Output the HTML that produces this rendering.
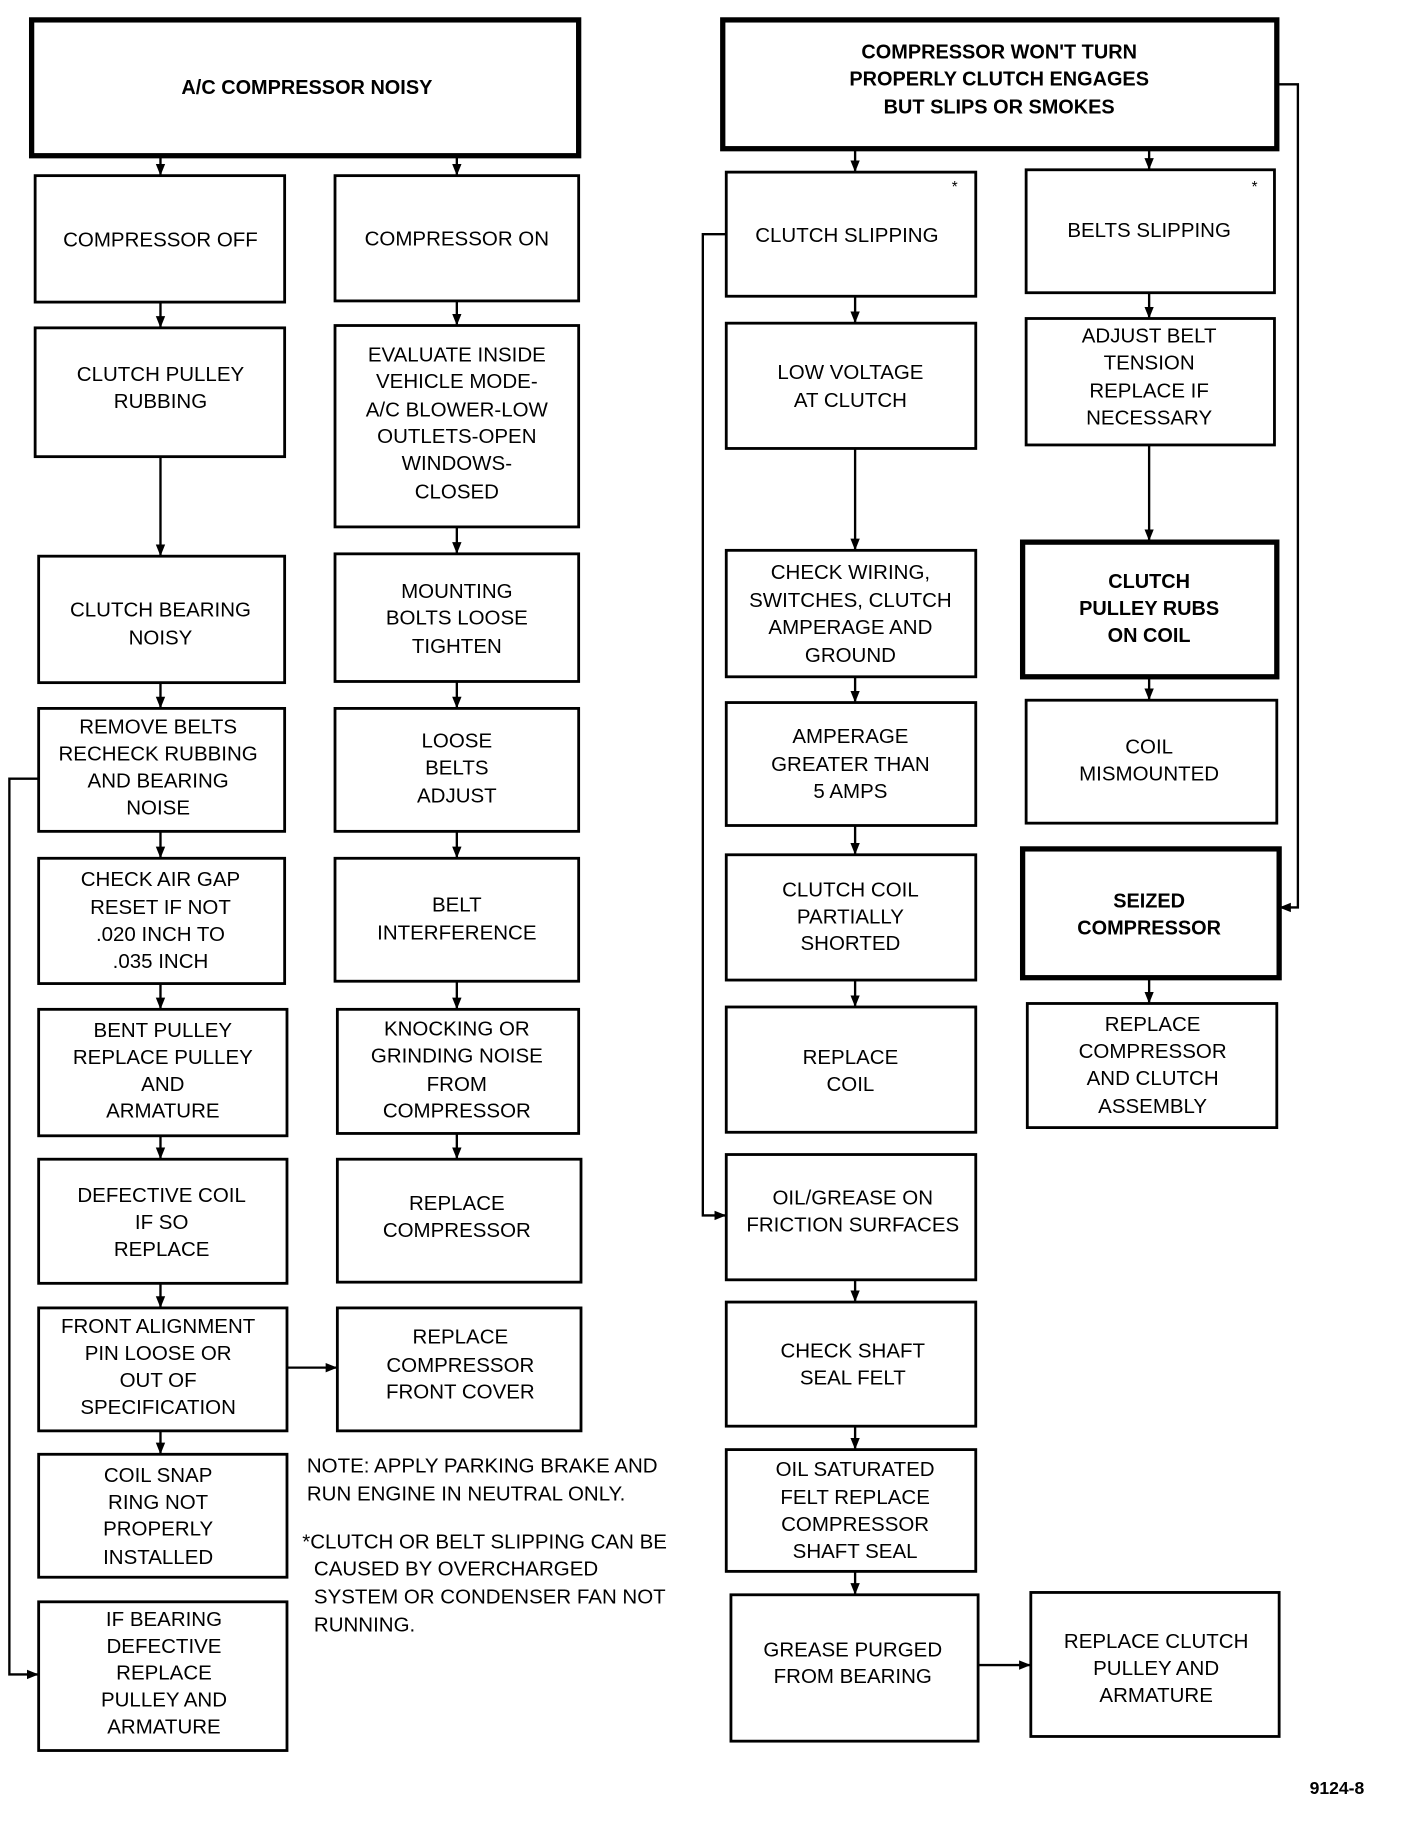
<!DOCTYPE html>
<html><head><meta charset="utf-8"><style>
html,body{margin:0;padding:0;background:#fff;}
svg{display:block;}
text{font-family:"Liberation Sans",sans-serif;font-size:17.5px;fill:#000;text-anchor:middle;dominant-baseline:central;}
.b{font-weight:bold;font-size:17px;}
.l{text-anchor:start;}
rect{fill:none;stroke:#000;stroke-width:2.4;}
rect.t{stroke-width:4.5;}
line,polyline{stroke:#000;stroke-width:2;fill:none;}
</style></head><body>
<svg width="1408" height="1836" viewBox="0 0 1202 1568" preserveAspectRatio="none" xmlns="http://www.w3.org/2000/svg">
<defs><marker id="a" markerWidth="10" markerHeight="10" refX="9" refY="5" orient="auto" markerUnits="userSpaceOnUse"><path d="M0,1 L10,5 L0,9 z" fill="#000"/></marker></defs>
<rect class="t" x="27" y="17" width="467" height="116"/>
<rect x="30" y="150" width="213" height="108"/>
<rect x="30" y="280" width="213" height="110"/>
<rect x="33" y="475" width="210" height="108"/>
<rect x="33" y="605" width="210" height="105"/>
<rect x="33" y="733" width="210" height="107"/>
<rect x="33" y="862" width="212" height="108"/>
<rect x="33" y="990" width="212" height="106"/>
<rect x="33" y="1117" width="212" height="105"/>
<rect x="33" y="1242" width="212" height="105"/>
<rect x="33" y="1368" width="212" height="127"/>
<rect x="286" y="150" width="208" height="107"/>
<rect x="286" y="278" width="208" height="172"/>
<rect x="286" y="473" width="208" height="109"/>
<rect x="286" y="605" width="208" height="105"/>
<rect x="286" y="733" width="208" height="105"/>
<rect x="288" y="862" width="206" height="106"/>
<rect x="288" y="990" width="208" height="105"/>
<rect x="288" y="1117" width="208" height="105"/>
<rect class="t" x="617" y="17" width="473" height="110"/>
<rect x="620" y="147" width="213" height="106"/>
<rect x="620" y="276" width="213" height="107"/>
<rect x="620" y="470" width="213" height="108"/>
<rect x="620" y="600" width="213" height="105"/>
<rect x="620" y="730" width="213" height="107"/>
<rect x="620" y="860" width="213" height="107"/>
<rect x="620" y="986" width="213" height="107"/>
<rect x="620" y="1112" width="213" height="106"/>
<rect x="620" y="1238" width="213" height="104"/>
<rect x="624" y="1362" width="211" height="125"/>
<rect x="876" y="145" width="212" height="105"/>
<rect x="876" y="272" width="212" height="108"/>
<rect class="t" x="873" y="463" width="217" height="115"/>
<rect x="876" y="598" width="214" height="105"/>
<rect class="t" x="873" y="725" width="219" height="110"/>
<rect x="877" y="857" width="213" height="106"/>
<rect x="880" y="1360" width="212" height="123"/>
<g marker-end="url(#a)">
<line x1="137" y1="133" x2="137" y2="149"/>
<line x1="390" y1="133" x2="390" y2="149"/>
<line x1="137" y1="258" x2="137" y2="279"/>
<line x1="137" y1="390" x2="137" y2="474"/>
<line x1="137" y1="583" x2="137" y2="604"/>
<line x1="137" y1="710" x2="137" y2="732"/>
<line x1="137" y1="840" x2="137" y2="861"/>
<line x1="137" y1="970" x2="137" y2="989"/>
<line x1="137" y1="1096" x2="137" y2="1116"/>
<line x1="137" y1="1222" x2="137" y2="1241"/>
<line x1="390" y1="257" x2="390" y2="277"/>
<line x1="390" y1="450" x2="390" y2="472"/>
<line x1="390" y1="582" x2="390" y2="604"/>
<line x1="390" y1="710" x2="390" y2="732"/>
<line x1="390" y1="838" x2="390" y2="861"/>
<line x1="390" y1="968" x2="390" y2="989"/>
<line x1="245" y1="1168" x2="287" y2="1168"/>
<line x1="730" y1="127" x2="730" y2="146"/>
<line x1="981" y1="127" x2="981" y2="144"/>
<line x1="730" y1="253" x2="730" y2="275"/>
<line x1="730" y1="383" x2="730" y2="469"/>
<line x1="730" y1="578" x2="730" y2="599"/>
<line x1="730" y1="705" x2="730" y2="729"/>
<line x1="730" y1="837" x2="730" y2="859"/>
<line x1="730" y1="1093" x2="730" y2="1111"/>
<line x1="730" y1="1218" x2="730" y2="1237"/>
<line x1="730" y1="1342" x2="730" y2="1361"/>
<line x1="835" y1="1422" x2="879" y2="1422"/>
<line x1="981" y1="250" x2="981" y2="271"/>
<line x1="981" y1="380" x2="981" y2="461"/>
<line x1="981" y1="578" x2="981" y2="597"/>
<line x1="981" y1="835" x2="981" y2="856"/>
<polyline points="33,665 8,665 8,1430 32,1430"/>
<polyline points="620,200 600,200 600,1038 619,1038"/>
<polyline points="1090,72 1108,72 1108,775 1093,775"/>
</g>
<text class="b" x="262" y="75">A/C COMPRESSOR NOISY</text>
<text x="137" y="205">COMPRESSOR OFF</text>
<text x="137" y="320">CLUTCH PULLEY</text><text x="137" y="343">RUBBING</text>
<text x="137" y="521">CLUTCH BEARING</text><text x="137" y="545">NOISY</text>
<text x="135" y="621">REMOVE BELTS</text><text x="135" y="644">RECHECK RUBBING</text><text x="135" y="667">AND BEARING</text><text x="135" y="690">NOISE</text>
<text x="137" y="751">CHECK AIR GAP</text><text x="137" y="775">RESET IF NOT</text><text x="137" y="798">.020 INCH TO</text><text x="137" y="821">.035 INCH</text>
<text x="139" y="880">BENT PULLEY</text><text x="139" y="903">REPLACE PULLEY</text><text x="139" y="926">AND</text><text x="139" y="949">ARMATURE</text>
<text x="138" y="1021">DEFECTIVE COIL</text><text x="138" y="1044">IF SO</text><text x="138" y="1067">REPLACE</text>
<text x="135" y="1133">FRONT ALIGNMENT</text><text x="135" y="1156">PIN LOOSE OR</text><text x="135" y="1179">OUT OF</text><text x="135" y="1202">SPECIFICATION</text>
<text x="135" y="1260">COIL SNAP</text><text x="135" y="1283">RING NOT</text><text x="135" y="1306">PROPERLY</text><text x="135" y="1330">INSTALLED</text>
<text x="140" y="1383">IF BEARING</text><text x="140" y="1406">DEFECTIVE</text><text x="140" y="1429">REPLACE</text><text x="140" y="1452">PULLEY AND</text><text x="140" y="1475">ARMATURE</text>
<text x="390" y="204">COMPRESSOR ON</text>
<text x="390" y="303">EVALUATE INSIDE</text><text x="390" y="326">VEHICLE MODE-</text><text x="390" y="350">A/C BLOWER-LOW</text><text x="390" y="373">OUTLETS-OPEN</text><text x="390" y="396">WINDOWS-</text><text x="390" y="420">CLOSED</text>
<text x="390" y="505">MOUNTING</text><text x="390" y="528">BOLTS LOOSE</text><text x="390" y="552">TIGHTEN</text>
<text x="390" y="633">LOOSE</text><text x="390" y="656">BELTS</text><text x="390" y="680">ADJUST</text>
<text x="390" y="773">BELT</text><text x="390" y="797">INTERFERENCE</text>
<text x="390" y="879">KNOCKING OR</text><text x="390" y="902">GRINDING NOISE</text><text x="390" y="926">FROM</text><text x="390" y="949">COMPRESSOR</text>
<text x="390" y="1028">REPLACE</text><text x="390" y="1051">COMPRESSOR</text>
<text x="393" y="1142">REPLACE</text><text x="393" y="1166">COMPRESSOR</text><text x="393" y="1189">FRONT COVER</text>
<text class="b" x="853" y="45">COMPRESSOR WON'T TURN</text><text class="b" x="853" y="68">PROPERLY CLUTCH ENGAGES</text><text class="b" x="853" y="92">BUT SLIPS OR SMOKES</text>
<text x="723" y="201">CLUTCH SLIPPING</text><text x="815" y="160" style="font-size:13px">*</text>
<text x="726" y="318">LOW VOLTAGE</text><text x="726" y="342">AT CLUTCH</text>
<text x="726" y="489">CHECK WIRING,</text><text x="726" y="513">SWITCHES, CLUTCH</text><text x="726" y="536">AMPERAGE AND</text><text x="726" y="560">GROUND</text>
<text x="726" y="629">AMPERAGE</text><text x="726" y="653">GREATER THAN</text><text x="726" y="676">5 AMPS</text>
<text x="726" y="760">CLUTCH COIL</text><text x="726" y="783">PARTIALLY</text><text x="726" y="806">SHORTED</text>
<text x="726" y="903">REPLACE</text><text x="726" y="926">COIL</text>
<text x="728" y="1023">OIL/GREASE ON</text><text x="728" y="1046">FRICTION SURFACES</text>
<text x="728" y="1154">CHECK SHAFT</text><text x="728" y="1177">SEAL FELT</text>
<text x="730" y="1255">OIL SATURATED</text><text x="730" y="1279">FELT REPLACE</text><text x="730" y="1302">COMPRESSOR</text><text x="730" y="1325">SHAFT SEAL</text>
<text x="728" y="1409">GREASE PURGED</text><text x="728" y="1432">FROM BEARING</text>
<text x="981" y="197">BELTS SLIPPING</text><text x="1071" y="160" style="font-size:13px">*</text>
<text x="981" y="287">ADJUST BELT</text><text x="981" y="310">TENSION</text><text x="981" y="334">REPLACE IF</text><text x="981" y="357">NECESSARY</text>
<text class="b" x="981" y="497">CLUTCH</text><text class="b" x="981" y="520">PULLEY RUBS</text><text class="b" x="981" y="543">ON COIL</text>
<text x="981" y="638">COIL</text><text x="981" y="661">MISMOUNTED</text>
<text class="b" x="981" y="770">SEIZED</text><text class="b" x="981" y="793">COMPRESSOR</text>
<text x="984" y="875">REPLACE</text><text x="984" y="898">COMPRESSOR</text><text x="984" y="921">AND CLUTCH</text><text x="984" y="945">ASSEMBLY</text>
<text x="987" y="1402">REPLACE CLUTCH</text><text x="987" y="1425">PULLEY AND</text><text x="987" y="1448">ARMATURE</text>
<text class="l" x="262" y="1252">NOTE: APPLY PARKING BRAKE AND</text>
<text class="l" x="262" y="1276">RUN ENGINE IN NEUTRAL ONLY.</text>
<text class="l" x="258" y="1317">*CLUTCH OR BELT SLIPPING CAN BE</text>
<text class="l" x="268" y="1340">CAUSED BY OVERCHARGED</text>
<text class="l" x="268" y="1364">SYSTEM OR CONDENSER FAN NOT</text>
<text class="l" x="268" y="1388">RUNNING.</text>
<text class="b l" x="1118" y="1527" style="font-size:15px">9124-8</text>
</svg>
</body></html>
